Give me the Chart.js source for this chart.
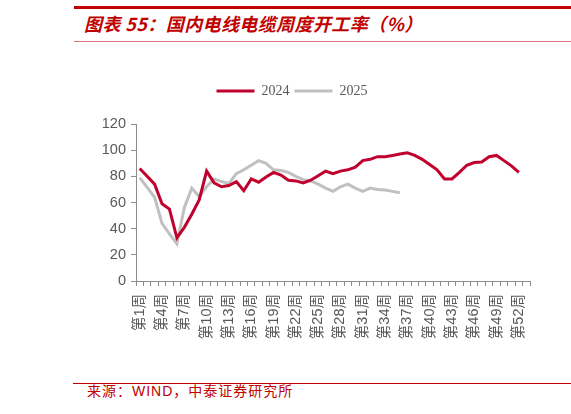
<!DOCTYPE html>
<html>
<head>
<meta charset="utf-8">
<script src="https://cdn.jsdelivr.net/npm/chart.js@4.4.1/dist/chart.umd.min.js"></script>
<style>
  html, body { margin: 0; padding: 0; background: #fff; }
  body { width: 571px; height: 414px; position: relative; overflow: hidden; }
  .line { position: absolute; }
  #title { position: absolute; left: 84px; top: 14px; font: italic bold 18px "Noto Sans CJK SC", sans-serif; line-height: 18px; color: #C00000; letter-spacing: 0.4px; white-space: nowrap; }
  #source { position: absolute; left: 87px; top: 384px; font: 14px "Liberation Sans", "Noto Sans CJK SC", sans-serif; line-height: 14px; color: #C00000; letter-spacing: 1px; white-space: nowrap; }
  #wrap { position: absolute; left: 0; top: 50px; width: 571px; height: 330px; }
</style>
</head>
<body>
<div class="line" style="left:74px; top:6px; width:497px; height:3px; background:#C00000;"></div>
<div id="title">图表 55：国内电线电缆周度开工率（%）</div>
<div class="line" style="left:74px; top:41px; width:497px; height:1px; background:#E07A7A;"></div>
<div id="wrap"><canvas id="c"></canvas></div>
<div class="line" style="left:73px; top:383px; width:498px; height:1px; background:#C00000;"></div>
<div id="source">来源：WIND，中泰证券研究所</div>
<script>
const weeks = ["第1周","第2周","第3周","第4周","第5周","第6周","第7周","第8周","第9周","第10周",
  "第11周","第12周","第13周","第14周","第15周","第16周","第17周","第18周","第19周","第20周",
  "第21周","第22周","第23周","第24周","第25周","第26周","第27周","第28周","第29周","第30周",
  "第31周","第32周","第33周","第34周","第35周","第36周","第37周","第38周","第39周","第40周",
  "第41周","第42周","第43周","第44周","第45周","第46周","第47周","第48周","第49周","第50周",
  "第51周","第52周","第53周"];
const series2024 = [86, 80, 74, 59, 55, 33, 41, 51, 62, 84,
  75, 72, 73, 76, 69, 78, 75.5, 79.5, 83, 81,
  77, 76.5, 75, 77, 80.5, 84, 82, 84, 85, 87,
  92, 93, 95, 95, 96, 97, 98, 96, 93, 89,
  85, 78, 78, 83, 88.5, 90.5, 91, 95, 96, 92,
  88, 83, null];
const series2025 = [79, 71.5, 64, 44, 36, 28.5, 56, 71, 64.5, 72,
  78, 76, 74.5, 82, 85, 88.5, 92, 90, 85, 84.5,
  83, 80, 77.5, 76.5, 74, 71, 68.5, 72, 74, 71,
  68.5, 71, 70, 69.5, 68.5, 67.5];
const yTicks = [0, 20, 40, 60, 80, 100, 120];

const axisColor = '#8c8c8c';
const textColor = '#595959';

const legendGap = {
  id: 'legendGap',
  beforeInit(chart) {
    const fit = chart.legend.fit;
    chart.legend.fit = function () { fit.bind(chart.legend)(); this.height += 16; };
  }
};

new Chart(document.getElementById('c'), {
  type: 'line',
  data: {
    labels: weeks,
    datasets: [
      { label: '2024', data: series2024, borderColor: '#C0002D', backgroundColor: '#C0002D', borderWidth: 3, pointRadius: 0, tension: 0 },
      { label: '2025', data: series2025, borderColor: '#C0C0C0', backgroundColor: '#C0C0C0', borderWidth: 3, pointRadius: 0, tension: 0 }
    ]
  },
  options: {
    responsive: true,
    maintainAspectRatio: false,
    animation: false,
    layout: { padding: { left: 54, right: 41, top: 29, bottom: 0 } },
    plugins: {
      tooltip: { enabled: false },
      legend: {
        position: 'top',
        labels: {
          boxWidth: 38, boxHeight: 3, padding: 5,
          color: textColor,
          font: { family: '"Liberation Serif", serif', size: 14 },
          generateLabels(chart) {
            return chart.data.datasets.map((d, i) => ({
              text: d.label, fillStyle: d.borderColor, strokeStyle: d.borderColor,
              lineWidth: 0, hidden: false, datasetIndex: i, fontColor: textColor
            }));
          }
        }
      }
    },
    scales: {
      x: {
        type: 'category',
        offset: true,
        grid: { offset: true, drawOnChartArea: false, drawTicks: true, tickLength: 5, color: axisColor },
        border: { display: true, color: axisColor },
        ticks: {
          autoSkip: false, minRotation: 90, maxRotation: 90, padding: 8,
          color: textColor, font: { family: '"Liberation Sans", "Noto Sans CJK SC", sans-serif', size: 14.5 },
          callback(v, i) { return i % 3 === 0 ? weeks[i] : ''; }
        },
        afterFit(s) { s.height = 99; }
      },
      y: {
        min: 0, max: 120,
        afterBuildTicks(s) { s.ticks = yTicks.map(v => ({ value: v })); },
        grid: { drawOnChartArea: false, drawTicks: true, tickLength: 5, color: axisColor },
        border: { display: true, color: axisColor },
        ticks: { padding: 5, color: textColor, font: { family: '"Liberation Sans", sans-serif', size: 14.5 } },
        afterFit(s) { s.width = 82; }
      }
    }
  },
  plugins: [legendGap]
});
</script>
</body>
</html>
